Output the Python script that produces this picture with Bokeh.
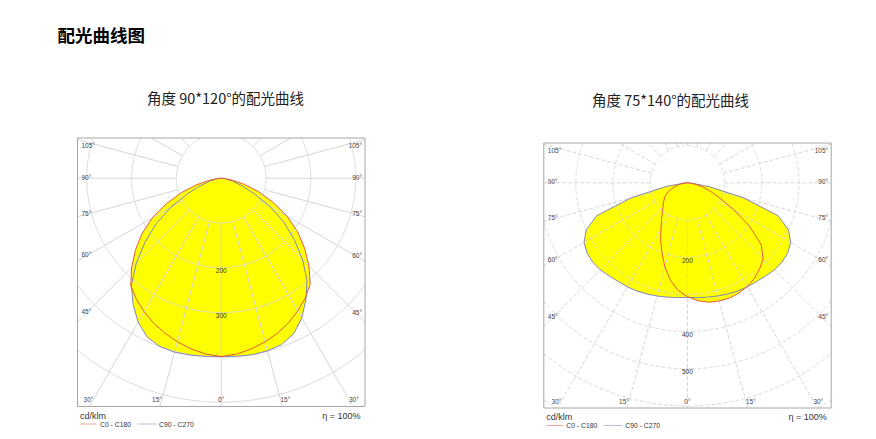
import numpy as np
from bokeh.plotting import figure
from bokeh.models import Range1d
from bokeh.core.properties import value
from bokeh.embed import file_html
from bokeh.resources import INLINE

# ---------------- data (cd/klm, gamma angle in degrees from nadir) ----------------
ANGLES = [0, 5, 10, 15, 20, 25, 30, 35, 40, 45, 50, 55, 60, 65, 70, 75, 80, 85, 90]

# chart 1: 90*120 deg
L_C0   = [398, 394, 387, 378, 368, 356, 342, 327, 309, 277, 243, 208, 170, 128, 90, 54, 26, 9, 0]
L_C180 = [398, 394, 387, 378, 368, 357, 344, 330, 314, 283, 250, 216, 178, 135, 95, 57, 27, 9, 0]
L_C90  = [398, 399, 400, 399, 395, 383, 360, 330, 298, 257, 213, 170, 125, 80, 50, 27, 12, 4, 0]
L_C270 = [398, 399, 401, 402, 400, 391, 371, 343, 312, 268, 222, 177, 131, 83, 52, 28, 12, 4, 0]

# chart 2: 75*140 deg
R_C0   = [306, 318, 326, 329, 330, 327, 322, 314, 302, 288, 259, 204, 143, 95, 65, 42, 22, 8, 0]
R_C180 = [306, 290, 265, 234, 200, 170, 142, 121, 105, 93, 84, 76, 68, 56, 43, 30, 18, 8, 0]
R_C90  = [308, 310, 312, 315, 318, 321, 323, 324, 327, 331, 332, 329, 321, 300, 260, 157, 59, 10, 0]
R_C270 = [308, 310, 312, 315, 318, 321, 323, 324, 327, 331, 332, 329, 321, 300, 260, 157, 59, 10, 0]

MAIN_TITLE = "配光曲线图"
L_TITLE = "角度 90*120°的配光曲线"
R_TITLE = "角度 75*140°的配光曲线"
SIDE_ANGLES = [45, 60, 75, 90, 105]
BOTTOM_ANGLES = [0, 15, 30]
L_RING_LABELS = [200, 300]
R_RING_LABELS = [200, 400, 500]
UNIT = "cd/klm"
ETA = "η = 100%"
LEGEND = ["C0 - C180", "C90 - C270"]

# ---------------- styling / layout ----------------
W, H, M = 860, 431, 0
YELLOW = "#ffff00"
RED = "#e65a3c"
BLUE = "#8585b8"
GRID = "#d6d6d6"
BOX = "#a6a6a6"
CJK = value("Noto Sans CJK SC")
SANS = value("Liberation Sans")

p = figure(width=W, height=H, output_backend="svg", toolbar_location=None,
           x_range=Range1d(M, M + W), y_range=Range1d(M + H, M),
           min_border=0, outline_line_color=None, background_fill_color="white")
p.axis.visible = False
p.grid.visible = False

p.text(x=[57], y=[34], text=[MAIN_TITLE], text_font=CJK, text_font_size=value("17.5px"),
       text_font_style="bold", text_color="#000000", text_align="left", text_baseline="middle")


def curve(right, left):
    th = np.radians(ANGLES)
    r = np.asarray(right, float)
    l = np.asarray(left, float)
    xr, yr = r * np.sin(th), -r * np.cos(th)
    xl, yl = -l * np.sin(th), -l * np.cos(th)
    return np.concatenate([xl[::-1], xr[1:]]), np.concatenate([yl[::-1], yr[1:]])


def draw_chart(name, ox, oy, s, box_px, c0, c180, c90, c270, ring_labels, title, title_xy, dash):
    xn, yn = name + "x", name + "y"
    p.extra_x_ranges[xn] = Range1d((M - ox) / s, (M + W - ox) / s)
    p.extra_y_ranges[yn] = Range1d((oy - (M + H)) / s, (oy - M) / s)
    kw = dict(x_range_name=xn, y_range_name=yn)
    bl_px, br_px, bt_px, bb_px = box_px
    bl, br = (bl_px - ox) / s, (br_px - ox) / s
    bt, bb = (oy - bt_px) / s, (oy - bb_px) / s

    xa, ya = curve(c0, c180)
    xb, yb = curve(c90, c270)
    p.patch(xa, ya, fill_color=YELLOW, line_color=None, **kw)
    p.patch(xb, yb, fill_color=YELLOW, line_color=None, **kw)

    # rings clipped to the box
    rmax = np.hypot(max(abs(bl), abs(br)), max(abs(bt), abs(bb)))
    gx, gy = [], []
    phi = np.linspace(0, 2 * np.pi, 1441)
    for R in range(100, int(rmax) + 1, 100):
        x, y = R * np.cos(phi), R * np.sin(phi)
        inside = (x >= bl) & (x <= br) & (y >= bb) & (y <= bt)
        gx.extend(np.where(inside, x, np.nan).tolist() + [np.nan])
        gy.extend(np.where(inside, y, np.nan).tolist() + [np.nan])
    p.line(gx, gy, line_color=GRID, line_width=1, line_dash=dash, **kw)

    # radial lines every 15 deg from ring 100 to the box
    x0, y0, x1, y1 = [], [], [], []
    for a in range(-165, 181, 15):
        dx, dy = np.sin(np.radians(a)), -np.cos(np.radians(a))
        ts = []
        if dx > 1e-9: ts.append(br / dx)
        if dx < -1e-9: ts.append(bl / dx)
        if dy > 1e-9: ts.append(bt / dy)
        if dy < -1e-9: ts.append(bb / dy)
        t = min(ts)
        if t > 100:
            x0.append(100 * dx); y0.append(100 * dy)
            x1.append(t * dx); y1.append(t * dy)
    p.segment(x0, y0, x1, y1, line_color=GRID, line_width=1, line_dash=dash, **kw)

    p.quad(left=[bl], right=[br], top=[bt], bottom=[bb], fill_color=None,
           line_color=BOX, line_width=1, **kw)

    p.line(xb, yb, line_color=BLUE, line_width=1, **kw)
    p.line(xa, ya, line_color=RED, line_width=1, **kw)

    # ring labels
    p.text(x=[0] * len(ring_labels), y=[-r for r in ring_labels], text=[str(r) for r in ring_labels],
           text_font=SANS, text_font_size=value("6.5px"), text_color="#333333",
           text_align="center", text_baseline="middle", y_offset=3, **kw)

    # side angle labels
    dl, dr = (ox - bl_px - 9) / s, (br_px - ox - 9) / s
    ytop = bt - 8.5 / s
    lx, ly, rx, ry, t_ = [], [], [], [], []
    for a in SIDE_ANGLES:
        ar = np.radians(a)
        ly.append(min(-dl * np.cos(ar) / np.sin(ar), ytop))
        ry.append(min(-dr * np.cos(ar) / np.sin(ar), ytop))
        lx.append(bl + 4 / s); rx.append(br - 3 / s)
        t_.append(f"{a}°")
    lab = dict(text_font=SANS, text_font_size=value("6.5px"), text_color="#444444",
               text_baseline="middle", **kw)
    p.text(x=lx, y=ly, text=t_, text_align="left", y_offset=-1, **lab)
    p.text(x=rx, y=ry, text=t_, text_align="right", y_offset=-1, **lab)

    # bottom angle labels
    yb_lab = bb + 7 / s
    dist = -yb_lab
    for a in BOTTOM_ANGLES:
        off = dist * np.tan(np.radians(a))
        if a == 0:
            p.text(x=[0], y=[yb_lab], text=[f"{a}°"], text_align="center", **lab)
        else:
            p.text(x=[-off], y=[yb_lab], text=[f"{a}°"], text_align="right", **lab)
            p.text(x=[off], y=[yb_lab], text=[f"{a}°"], text_align="left", **lab)

    # titles and footer (page coordinates)
    p.text(x=[title_xy[0]], y=[title_xy[1]], text=[title], text_font=CJK,
           text_font_size=value("14.5px"), text_color="#222222",
           text_align="center", text_baseline="middle")
    foot = dict(text_font=SANS, text_color="#333333", text_baseline="middle")
    p.text(x=[bl_px + 2.5], y=[bb_px + 9], text=[UNIT], text_font_size=value("9px"),
           text_align="left", **foot)
    p.text(x=[br_px - 4.5], y=[bb_px + 9], text=[ETA], text_font_size=value("9px"),
           text_align="right", **foot)
    ly_ = bb_px + 17.5
    p.line([bl_px + 3, bl_px + 19], [ly_, ly_], line_color=RED, line_alpha=0.55, line_width=1)
    p.line([bl_px + 60, bl_px + 79], [ly_, ly_], line_color=BLUE, line_alpha=0.55, line_width=1)
    p.text(x=[bl_px + 22.5, bl_px + 81.5], y=[ly_, ly_], text=LEGEND,
           text_font_size=value("6.8px"), text_align="left", **foot)


draw_chart("L", 220.7, 177.7, 0.448, (77.0, 364.5, 137.5, 406.0),
           L_C0, L_C180, L_C90, L_C270, L_RING_LABELS, L_TITLE, (225, 97), "solid")
draw_chart("R", 686.9, 182.3, 0.372, (543.3, 830.7, 142.5, 407.5),
           R_C0, R_C180, R_C90, R_C270, R_RING_LABELS, R_TITLE, (670, 99), "4 2")

open("out.html", "w").write(file_html(p, INLINE))
